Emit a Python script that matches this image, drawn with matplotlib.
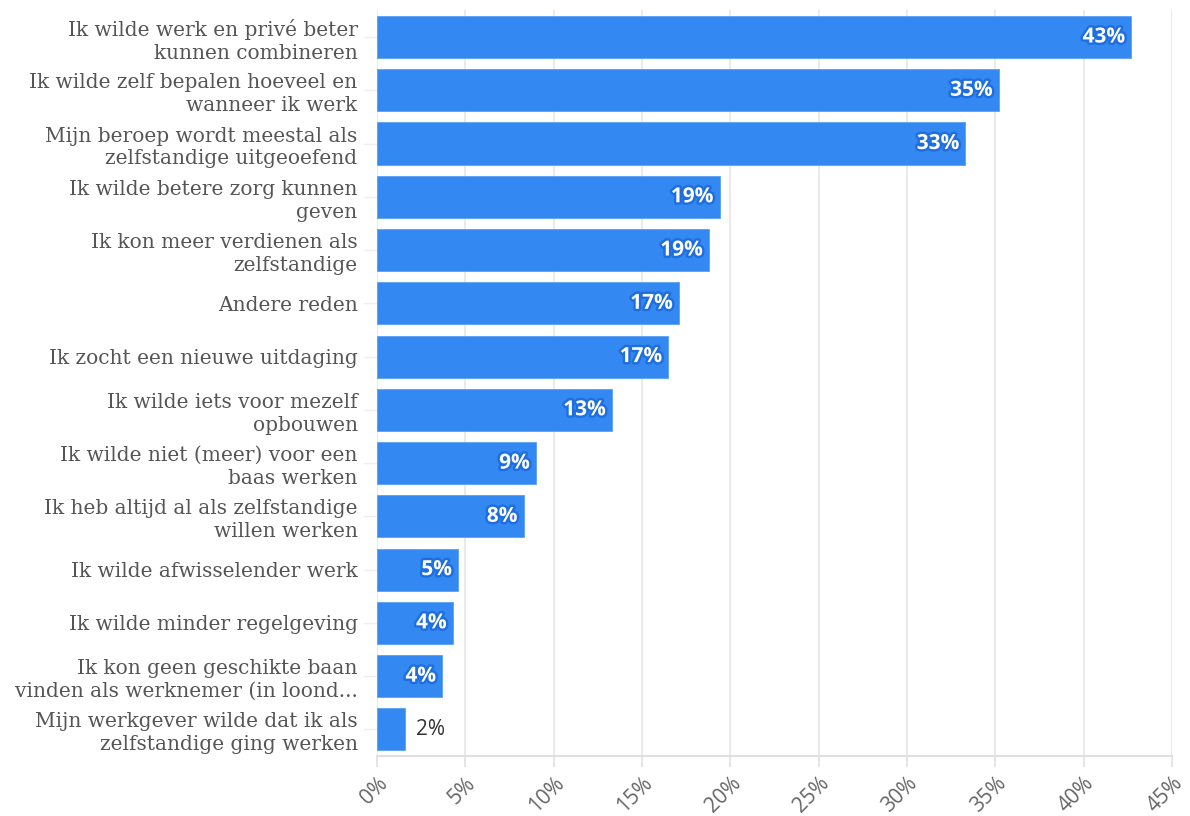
import matplotlib.pyplot as plt
import matplotlib.patheffects as pe
from matplotlib.ticker import FuncFormatter

categories = [
    "Ik wilde werk en privé beter\nkunnen combineren",
    "Ik wilde zelf bepalen hoeveel en\nwanneer ik werk",
    "Mijn beroep wordt meestal als\nzelfstandige uitgeoefend",
    "Ik wilde betere zorg kunnen\ngeven",
    "Ik kon meer verdienen als\nzelfstandige",
    "Andere reden",
    "Ik zocht een nieuwe uitdaging",
    "Ik wilde iets voor mezelf\nopbouwen",
    "Ik wilde niet (meer) voor een\nbaas werken",
    "Ik heb altijd al als zelfstandige\nwillen werken",
    "Ik wilde afwisselender werk",
    "Ik wilde minder regelgeving",
    "Ik kon geen geschikte baan\nvinden als werknemer (in loond...",
    "Mijn werkgever wilde dat ik als\nzelfstandige ging werken",
]
values = [42.7, 35.2, 33.3, 19.4, 18.8, 17.1, 16.5, 13.3, 9.0, 8.3, 4.6, 4.3, 3.7, 1.6]
value_labels = ["43%", "35%", "33%", "19%", "19%", "17%", "17%", "13%",
                "9%", "8%", "5%", "4%", "4%", "2%"]
x_ticks = [0, 5, 10, 15, 20, 25, 30, 35, 40, 45]

bar_color = "#3388f2"

fig = plt.figure(figsize=(11.9, 8.16), dpi=100)
ax = fig.add_axes([0.3168, 0.0735, 0.668, 0.9138])

y = list(range(len(categories)))
ax.barh(y, values, height=0.79, color=bar_color, edgecolor="#5aa0f5",
        linewidth=0.6, zorder=2)

# Value labels: inside the bar, except when the bar is too short.
for yi, v, lab in zip(y, values, value_labels):
    if v > 3:
        ax.text(v - 0.35, yi, lab, ha="right", va="center", color="white",
                fontsize=15, fontweight="bold", family="Open Sans", zorder=3,
                path_effects=[pe.withStroke(linewidth=3.5, foreground="#1f6ee0")])
    else:
        ax.text(v + 0.6, yi, lab, ha="left", va="center", color="#333333",
                fontsize=15, family="Open Sans", zorder=3)

ax.set_ylim(len(categories) - 0.5, -0.5)
ax.set_xlim(0, 45)
ax.set_yticks(y)
ax.set_yticklabels(categories, family="DejaVu Serif", fontsize=14.5,
                   color="#555555", linespacing=1.25)
ax.set_xticks(x_ticks)
ax.xaxis.set_major_formatter(FuncFormatter(lambda v, _: f"{v:.0f}%"))
for lbl in ax.get_xticklabels():
    lbl.set_rotation(45)
    lbl.set_ha("right")
    lbl.set_rotation_mode("anchor")
    lbl.set_family("Open Sans")
    lbl.set_fontsize(15)
    lbl.set_color("#666666")

ax.grid(axis="x", color="#e6e6e6", linewidth=1.2, zorder=0)
ax.set_axisbelow(True)
for side in ["top", "right", "left"]:
    ax.spines[side].set_visible(False)
ax.spines["bottom"].set_color("#e0e0e0")
ax.spines["bottom"].set_linewidth(1.5)
ax.tick_params(axis="x", length=8, color="#e0e0e0", width=1.2, pad=4)
ax.tick_params(axis="y", length=10, color="#eeeeee", width=1, pad=4)

plt.savefig("out.png")
plt.close()
